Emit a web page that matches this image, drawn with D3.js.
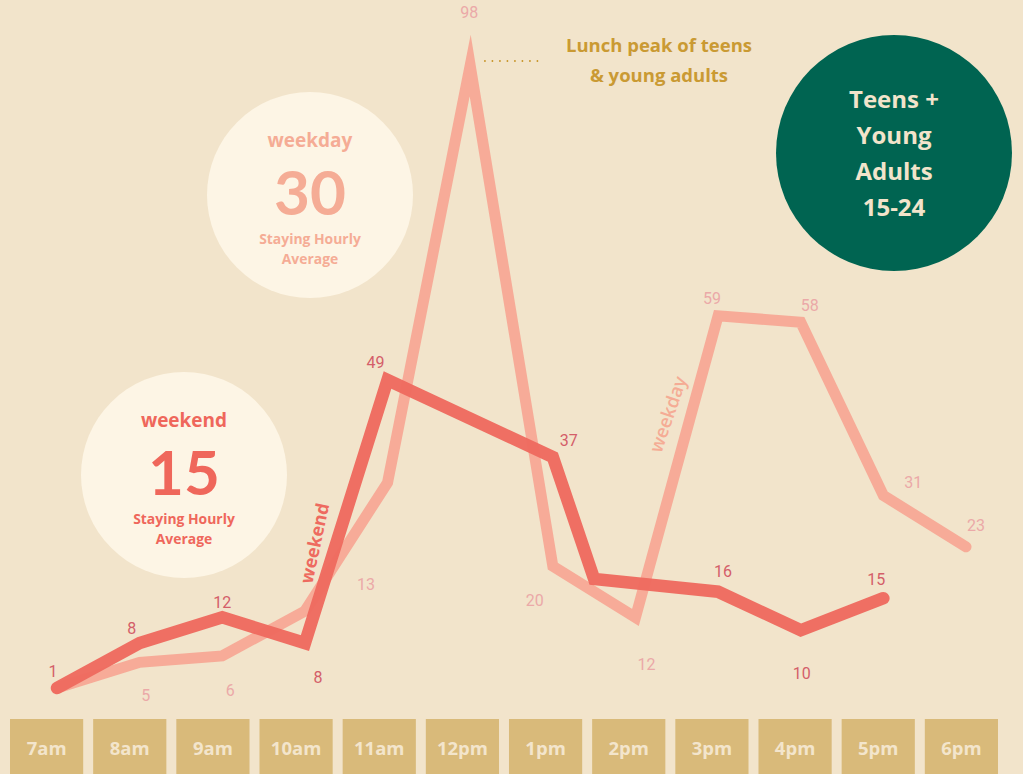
<!DOCTYPE html>
<html>
<head>
<meta charset="utf-8">
<script src="https://cdn.jsdelivr.net/npm/d3@7"></script>
<style>
  html, body { margin: 0; padding: 0; background: #F2E4CB; }
  svg { display: block; }
</style>
</head>
<body>
<svg id="chart" width="1023" height="774"></svg>
<script>
// Hour-of-day categories shown in the bottom strip
const hourLabels = ["7am", "8am", "9am", "10am", "11am", "12pm", "1pm", "2pm", "3pm", "4pm", "5pm", "6pm"];
const hours = [7, 8, 9, 10, 11, 12, 13, 14, 15, 16, 17, 18];

// Weekday visitors staying, per hour
const weekdayHours = [7, 8, 9, 10, 11, 12, 13, 14, 15, 16, 17, 18];
const weekdayValues = [1, 5, 6, 13, 33, 98, 20, 12, 59, 58, 31, 23];
const weekdayLabeled = [false, true, true, true, false, true, true, true, true, true, true, true];

// Weekend visitors staying, per hour
const weekendHours = [7, 8, 9, 10, 11, 13, 13.5, 15, 16, 17];
const weekendValues = [1, 8, 12, 8, 49, 37, 18, 16, 10, 15];
const weekendLabeled = [true, true, true, true, true, true, false, true, true, true];

// Hourly averages
const weekdayAverage = 30;
const weekendAverage = 15;

// Value-label placement relative to each point
const weekdayLabelOffsets = [[0, 0], [6, 33], [8, 35], [61, -26], [0, 0], [-1, -53], [-18, 34], [11, 47], [-6, -17], [9, -17], [30, -13], [10, -21]];
const weekendLabelOffsets = [[-4, -16], [-8, -15], [0, -15], [13, 34], [-12, -17], [16, -16], [0, 0], [5, -20], [1, 43], [-7, -19]];

const colors = {
  bg: "#F2E4CB",
  bubble: "#FDF5E5",
  weekday: "#F7A895",
  weekdayText: "#F5AC95",
  weekdayNum: "#EBA9A8",
  weekend: "#EE6A5F",
  weekendText: "#EF675B",
  weekendNum: "#D45E69",
  green: "#006451",
  box: "#D9BA7A",
  boxText: "#F3E5CC",
  gold: "#CA9A33"
};

const svg = d3.select("#chart");
const W = 1023, H = 774;
svg.append("rect").attr("width", W).attr("height", H).attr("fill", colors.bg);

const sans = "'Open Sans', Lato, sans-serif";
const big = "Lato, 'Open Sans', sans-serif";
const num = "Roboto, 'DejaVu Sans', sans-serif";

// Scales
const x = d3.scaleLinear().domain([7, 18]).range([57, 966]);
const y = d3.scaleLinear().domain([0, 100]).range([694.4, 52.7]);
const band = d3.scaleBand().domain(hourLabels).range([10, 998]).paddingInner(0.12).paddingOuter(0);

// Average bubbles
function bubble(cx, cy, title, value, color) {
  const g = svg.append("g");
  g.append("circle").attr("cx", cx).attr("cy", cy).attr("r", 103).attr("fill", colors.bubble);
  g.append("text").attr("x", cx).attr("y", cy - 55).attr("text-anchor", "middle")
    .attr("dominant-baseline", "central").attr("font-family", sans).attr("font-weight", 700)
    .attr("font-size", 19).attr("fill", color).text(title);
  g.append("text").attr("x", cx).attr("y", cy - 4).attr("text-anchor", "middle")
    .attr("dominant-baseline", "central").attr("font-family", big).attr("font-weight", 700)
    .attr("font-size", 62).attr("fill", color).text(value);
  g.append("text").attr("x", cx).attr("y", cy + 43).attr("text-anchor", "middle")
    .attr("dominant-baseline", "central").attr("font-family", sans).attr("font-weight", 700)
    .attr("font-size", 13.9).attr("fill", color).text("Staying Hourly");
  g.append("text").attr("x", cx).attr("y", cy + 63.5).attr("text-anchor", "middle")
    .attr("dominant-baseline", "central").attr("font-family", sans).attr("font-weight", 700)
    .attr("font-size", 13.9).attr("fill", color).text("Average");
}
bubble(310, 195, "weekday", weekdayAverage, colors.weekdayText);
bubble(184, 475, "weekend", weekendAverage, colors.weekendText);

// Audience badge
const badge = svg.append("g");
badge.append("circle").attr("cx", 894).attr("cy", 153).attr("r", 118).attr("fill", colors.green);
["Teens +", "Young", "Adults", "15-24"].forEach((t, i) => {
  badge.append("text").attr("x", 894).attr("y", 98 + i * 36).attr("text-anchor", "middle")
    .attr("dominant-baseline", "central").attr("font-family", sans).attr("font-weight", 700)
    .attr("font-size", 24).attr("fill", colors.bg).text(t);
});

// Lines
const line = d3.line().x(d => x(d[0])).y(d => y(d[1]));
const weekdayPts = weekdayHours.map((h, i) => [h, weekdayValues[i]]);
const weekendPts = weekendHours.map((h, i) => [h, weekendValues[i]]);

svg.append("path").datum(weekdayPts).attr("d", line)
  .attr("fill", "none").attr("stroke", colors.weekday).attr("stroke-width", 11)
  .attr("stroke-linejoin", "miter").attr("stroke-miterlimit", 10).attr("stroke-linecap", "round")
  .attr("opacity", 0.95);
svg.append("path").datum(weekendPts).attr("d", line)
  .attr("fill", "none").attr("stroke", colors.weekend).attr("stroke-width", 12.5)
  .attr("stroke-linejoin", "miter").attr("stroke-miterlimit", 10).attr("stroke-linecap", "round")
  .attr("opacity", 0.97);

// Value labels
function valueLabels(pts, labeled, offsets, color) {
  const items = pts.map((d, i) => ({ d, i })).filter(o => labeled[o.i]);
  svg.append("g").selectAll("text").data(items).join("text")
    .attr("x", o => x(o.d[0]) + offsets[o.i][0])
    .attr("y", o => y(o.d[1]) + offsets[o.i][1])
    .attr("text-anchor", "middle").attr("dominant-baseline", "central")
    .attr("font-family", num).attr("font-size", 16).attr("fill", color)
    .text(o => o.d[1]);
}
valueLabels(weekdayPts, weekdayLabeled, weekdayLabelOffsets, colors.weekdayNum);
valueLabels(weekendPts, weekendLabeled, weekendLabelOffsets, colors.weekendNum);

// Series names along the lines
svg.append("text").attr("transform", "translate(314,543) rotate(-78)")
  .attr("text-anchor", "middle").attr("dominant-baseline", "central")
  .attr("font-family", sans).attr("font-weight", 700).attr("font-size", 18)
  .attr("fill", colors.weekend).text("weekend");
svg.append("text").attr("transform", "translate(667,414) rotate(-71)")
  .attr("text-anchor", "middle").attr("dominant-baseline", "central")
  .attr("font-family", sans).attr("font-weight", 600).attr("font-size", 18.5)
  .attr("fill", colors.weekdayText).text("weekday");

// Lunch peak annotation
svg.append("line").attr("x1", x(12) + 14).attr("x2", x(12) + 72).attr("y1", 61).attr("y2", 61)
  .attr("stroke", colors.gold).attr("stroke-width", 2).attr("stroke-dasharray", "1.5 6");
["Lunch peak of teens", "& young adults"].forEach((t, i) => {
  svg.append("text").attr("x", 659).attr("y", 44 + i * 30).attr("text-anchor", "middle")
    .attr("dominant-baseline", "central").attr("font-family", sans).attr("font-weight", 700)
    .attr("font-size", 18.5).attr("fill", colors.gold).text(t);
});

// Hour strip
const strip = svg.append("g");
strip.selectAll("rect").data(hourLabels).join("rect")
  .attr("x", d => band(d)).attr("y", 719).attr("width", band.bandwidth()).attr("height", 60)
  .attr("fill", colors.box);
strip.selectAll("text").data(hourLabels).join("text")
  .attr("x", d => band(d) + band.bandwidth() / 2).attr("y", 747)
  .attr("text-anchor", "middle").attr("dominant-baseline", "central")
  .attr("font-family", sans).attr("font-weight", 700).attr("font-size", 18.5)
  .attr("fill", colors.boxText).text(d => d);
</script>
</body>
</html>
